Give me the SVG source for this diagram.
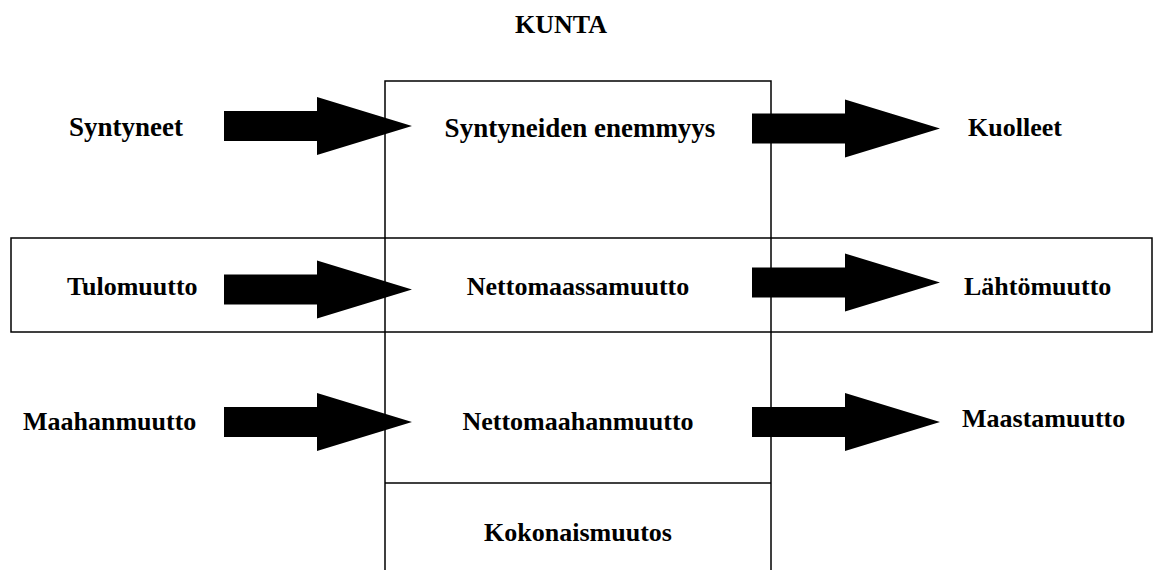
<svg xmlns="http://www.w3.org/2000/svg" xmlns:xlink="http://www.w3.org/1999/xlink" width="1155" height="570" viewBox="0 0 1155 570">
<style>
.lbl{font-family:"Liberation Serif","Times New Roman",serif;font-weight:bold;font-size:26px;fill:#000}
.big{font-size:27px}
.mid{text-anchor:middle}
.box{fill:none;stroke:#000;stroke-width:1.5}
.arr{fill:#000}
</style>
<defs>
<path id="arrow" d="M0,-15 H93 V-29 L188,0 L93,29 V15 H0 Z"/>
</defs>
<rect width="1155" height="570" fill="#fff"/>
<g id="frame">
<rect class="box" x="385" y="81" width="386" height="500"/>
<rect class="box" x="11" y="238" width="1141" height="94"/>
<line class="box" x1="385" y1="483" x2="771" y2="483"/>
</g>
<g id="title"><text class="lbl mid" x="561" y="33">KUNTA</text></g>
<g id="n-syntyneet"><text class="lbl big" x="69" y="136">Syntyneet</text></g>
<g id="n-syntyneiden"><text class="lbl big mid" x="580" y="137">Syntyneiden enemmyys</text></g>
<g id="n-kuolleet"><text class="lbl" x="968" y="136">Kuolleet</text></g>
<g id="n-tulomuutto"><text class="lbl" x="67" y="295">Tulomuutto</text></g>
<g id="n-nettomaassamuutto"><text class="lbl mid" x="578" y="295">Nettomaassamuutto</text></g>
<g id="n-lahtomuutto"><text class="lbl" x="964" y="295">Lähtömuutto</text></g>
<g id="n-maahanmuutto"><text class="lbl" x="23" y="430">Maahanmuutto</text></g>
<g id="n-nettomaahanmuutto"><text class="lbl mid" x="578" y="430">Nettomaahanmuutto</text></g>
<g id="n-maastamuutto"><text class="lbl" x="962" y="427">Maastamuutto</text></g>
<g id="n-kokonaismuutos"><text class="lbl mid" x="578" y="541">Kokonaismuutos</text></g>
<g id="connectors" class="arr">
<use xlink:href="#arrow" href="#arrow" x="224" y="126"/>
<use xlink:href="#arrow" href="#arrow" x="224" y="289.5"/>
<use xlink:href="#arrow" href="#arrow" x="224" y="422"/>
<use xlink:href="#arrow" href="#arrow" x="752" y="128.5"/>
<use xlink:href="#arrow" href="#arrow" x="752" y="282.5"/>
<use xlink:href="#arrow" href="#arrow" x="752" y="422"/>
</g>
</svg>
